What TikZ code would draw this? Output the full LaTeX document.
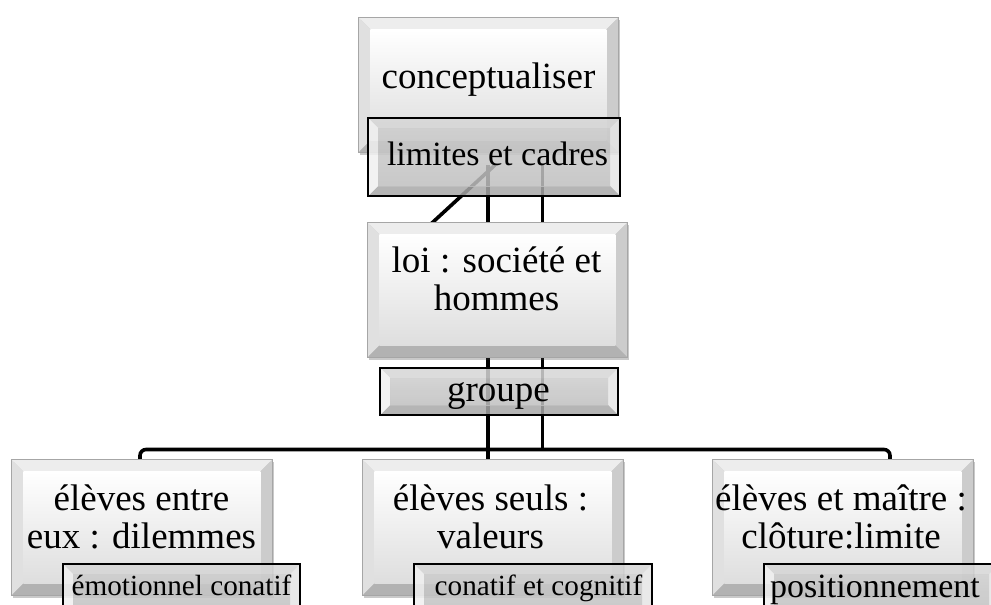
\documentclass[tikz,border=0pt]{standalone}
\usepackage{fontspec}
\setmainfont{Liberation Serif}
\usetikzlibrary{calc,shadows}
\pgfdeclarelayer{background}
\pgfsetlayers{background,main}
\tikzset{
  bevel/.style n args={6}{path picture={
     \coordinate (bvSW) at (path picture bounding box.south west);
     \coordinate (bvNE) at (path picture bounding box.north east);
     \coordinate (bvNW) at (bvSW |- bvNE);
     \coordinate (bvSE) at (bvNE |- bvSW);
     \coordinate (bvsw) at ($(bvSW)+(#1,#1)$);
     \coordinate (bvne) at ($(bvNE)+(-#1,-#1)$);
     \coordinate (bvnw) at (bvsw |- bvne);
     \coordinate (bvse) at (bvne |- bvsw);
     \fill[#2] (bvNW) -- (bvNE) -- (bvne) -- (bvnw) -- cycle;
     \fill[#3] (bvNW) -- (bvnw) -- (bvsw) -- (bvSW) -- cycle;
     \fill[#4] (bvNE) -- (bvSE) -- (bvse) -- (bvne) -- cycle;
     \fill[#5] (bvSW) -- (bvsw) -- (bvse) -- (bvSE) -- cycle;
     \shade[#6] (bvsw) rectangle (bvne);
  }},
  mainbox/.style={rectangle, inner sep=0pt, anchor=north west, draw=black!35, line width=0.8pt,
     drop shadow={shadow xshift=2pt, shadow yshift=-3pt, opacity=0.3, fill=black!70},
     bevel={12pt}{black!7}{black!12}{black!20}{black!30}{top color=white, bottom color=black!13}},
  subbox/.style={rectangle, inner sep=0pt, anchor=north west, draw=black, line width=2.4pt,
     bevel={10pt}{black!16,fill opacity=.85}{black!6,fill opacity=.85}{black!10,fill opacity=.85}{black!34,fill opacity=.85}{top color=black!20, bottom color=black!25, fill opacity=.85}},
  conn/.style={draw=black, line width=3.6pt},
  bigtxt/.style={font=\fontsize{37}{38}\selectfont, inner sep=0pt, anchor=base},
  midtxt/.style={font=\fontsize{34}{36}\selectfont, inner sep=0pt, anchor=base},
  smalltxt/.style={font=\fontsize{29.2}{31}\selectfont, inner sep=0pt, anchor=base},
}
\begin{document}
\begin{tikzpicture}[x=1pt,y=1pt]
\useasboundingbox (0,0) rectangle (991,-605);
% boxes
\node[mainbox, minimum width=260, minimum height=135] (concept) at (358,-17) {};
\node[subbox, minimum width=252, minimum height=78] (limites) at (367,-117) {};
\node[mainbox, minimum width=260, minimum height=135] (loi) at (367,-222) {};
\node[subbox, minimum width=238, minimum height=47] (groupe) at (379,-367) {};
\node[mainbox, minimum width=261, minimum height=136] (left) at (11,-459) {};
\node[mainbox, minimum width=261, minimum height=136] (mid) at (362,-459) {};
\node[mainbox, minimum width=261, minimum height=136] (right) at (712,-459) {};
\node[subbox, minimum width=237, minimum height=58] (subL) at (62,-563) {};
\node[subbox, minimum width=238, minimum height=58] (subM) at (413,-563) {};
\node[subbox, minimum width=235, minimum height=58] (subR) at (763,-563) {};
% texts
\node[bigtxt] (tconcept) at (488.5,-88) {conceptualiser};
\node[midtxt] (tlimites) at (497.5,-165) {limites et cadres};
\node[bigtxt] (tloi) at (496.5,-272.7) {\begin{tabular}[t]{@{}c@{}}loi : société et\\hommes\end{tabular}};
\node[bigtxt] (tgroupe) at (498.5,-401.7) {groupe};
\node[bigtxt] (tleft) at (141.5,-510.5) {\begin{tabular}[t]{@{}c@{}}élèves entre\\eux : dilemmes\end{tabular}};
\node[bigtxt] (tmid) at (490.5,-510.5) {\begin{tabular}[t]{@{}c@{}}élèves seuls :\\valeurs\end{tabular}};
\node[bigtxt] (tright) at (841,-510.5) {\begin{tabular}[t]{@{}c@{}}élèves et maître :\\clôture:limite\end{tabular}};
\node[smalltxt] (tsubL) at (181.5,-595) {émotionnel conatif};
\node[smalltxt] (tsubM) at (538.5,-595) {conatif et cognitif};
\node[midtxt] (tsubR) at (875,-597) {positionnement};
% connectors
\coordinate (va) at (488,-165);
\coordinate (vb) at (542.5,-165);
\coordinate (dtop) at (495,-165);
\coordinate (dbot) at (420,-234);
\coordinate (hl) at (140,-449.5);
\coordinate (hr) at (890,-449.5);
\begin{pgfonlayer}{background}
\draw[conn] (dtop) -- (dbot);
\draw[conn] (va) -- (va |- mid.north);
\draw[conn] (vb) -- (vb |- hl);
\draw[conn, rounded corners=6pt] (hl |- left.north) -- (hl) -- (hr) -- (hr |- right.north);
\end{pgfonlayer}
\end{tikzpicture}
\end{document}
